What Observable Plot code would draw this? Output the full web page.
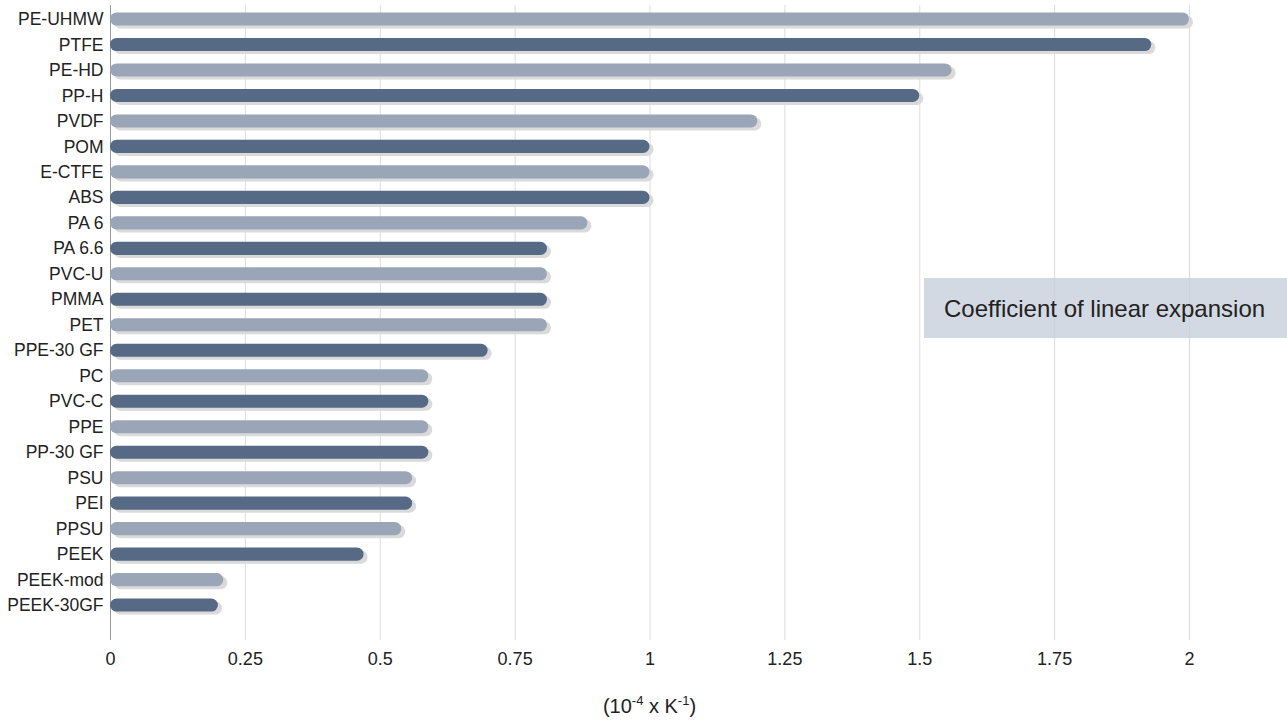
<!DOCTYPE html>
<html>
<head>
<meta charset="utf-8">
<script src="https://cdn.jsdelivr.net/npm/d3@7"></script>
<script src="https://cdn.jsdelivr.net/npm/@observablehq/plot@0.6"></script>
<style>
  body { margin: 0; background: #fff; font-family: "Liberation Sans", Arial, sans-serif; }
  #wrap { position: relative; width: 1287px; height: 722px; }
  #legend { position: absolute; left: 924px; top: 278px; width: 363px; height: 60px;
    background: rgba(200,207,219,0.8); box-sizing: border-box; padding-left: 20px;
    line-height: 62px; font-size: 24px; color: #222; white-space: nowrap; overflow: hidden; }
  #xtitle { position: absolute; left: 110px; width: 1079px; top: 694px; text-align: center;
    font-size: 20px; color: #222; line-height: 24px; }
  #xtitle sup { font-size: 13px; vertical-align: 8px; line-height: 0; }
</style>
</head>
<body>
<div id="wrap">
  <div id="chart"></div>
  <div id="legend">Coefficient of linear expansion</div>
  <div id="xtitle">(10<sup>-4</sup> x K<sup>-1</sup>)</div>
</div>
<script>
const materials = ["PE-UHMW","PTFE","PE-HD","PP-H","PVDF","POM","E-CTFE","ABS","PA 6","PA 6.6","PVC-U","PMMA","PET","PPE-30 GF","PC","PVC-C","PPE","PP-30 GF","PSU","PEI","PPSU","PEEK","PEEK-mod","PEEK-30GF"];
const values = [2.0,1.93,1.56,1.5,1.2,1.0,1.0,1.0,0.885,0.81,0.81,0.81,0.81,0.7,0.59,0.59,0.59,0.59,0.56,0.56,0.54,0.47,0.21,0.2];
const tones = ["light","dark"];
const xTicks = [0,0.25,0.5,0.75,1,1.25,1.5,1.75,2];
const xTickLabels = ["0","0.25","0.5","0.75","1","1.25","1.5","1.75","2"];

const palette = {light: "#9aa6b8", dark: "#566a85"};
const data = materials.map((name, i) => ({name, value: values[i], tone: tones[i % 2]}));

const inset = 6.2;
const chart = Plot.plot({
  width: 1287,
  height: 685,
  marginLeft: 110,
  marginRight: 98,
  marginTop: 5,
  marginBottom: 45,
  style: {fontFamily: "'Liberation Sans', Arial, sans-serif", color: "#222", background: "#fff"},
  x: {domain: [0, 2], label: null},
  y: {domain: materials, paddingInner: 0, paddingOuter: 0.46, align: 0.054, round: false, label: null},
  marks: [
    Plot.gridX(xTicks.slice(1), {stroke: "#dcdcdc", strokeOpacity: 1}),
    Plot.ruleX([0], {stroke: "#999", strokeWidth: 1}),
    Plot.barX(data, {x: "value", y: "name", fill: "#dadada", rx: 6.5, insetTop: inset, insetBottom: inset, dx: 4, dy: 3}),
    Plot.barX(data, {x: "value", y: "name", fill: d => palette[d.tone], rx: 6.5, insetTop: inset, insetBottom: inset}),
    Plot.axisY({tickSize: 0, tickPadding: 7, fontSize: 17.5}),
    Plot.axisX({ticks: xTicks, tickSize: 0, tickPadding: 12, fontSize: 18, tickFormat: d => xTickLabels[xTicks.indexOf(d)]})
  ]
});
document.getElementById("chart").appendChild(chart);
</script>
</body>
</html>
